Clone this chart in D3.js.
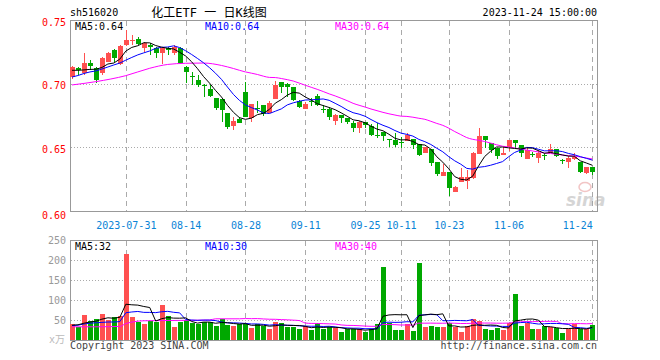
<!DOCTYPE html>
<html><head><meta charset="utf-8">
<script src="https://cdn.jsdelivr.net/npm/d3@7"></script>
<style>body{margin:0;background:#fff}svg{display:block}text{font-family:"DejaVu Sans Mono",monospace;font-size:10px}</style>
</head><body><svg id="c" width="660" height="360"></svg>
<script>
const dates = ["2023-07-18","2023-07-19","2023-07-20","2023-07-21","2023-07-24","2023-07-25","2023-07-26","2023-07-27","2023-07-28","2023-07-31",
"2023-08-01","2023-08-02","2023-08-03","2023-08-04","2023-08-07","2023-08-08","2023-08-09","2023-08-10","2023-08-11","2023-08-14",
"2023-08-15","2023-08-16","2023-08-17","2023-08-18","2023-08-21","2023-08-22","2023-08-23","2023-08-24","2023-08-25","2023-08-28",
"2023-08-29","2023-08-30","2023-08-31","2023-09-01","2023-09-04","2023-09-05","2023-09-06","2023-09-07","2023-09-08","2023-09-11",
"2023-09-12","2023-09-13","2023-09-14","2023-09-15","2023-09-18","2023-09-19","2023-09-20","2023-09-21","2023-09-22","2023-09-25",
"2023-09-26","2023-09-27","2023-09-28","2023-10-09","2023-10-10","2023-10-11","2023-10-12","2023-10-13","2023-10-16","2023-10-17",
"2023-10-18","2023-10-19","2023-10-20","2023-10-23","2023-10-24","2023-10-25","2023-10-26","2023-10-27","2023-10-30","2023-10-31",
"2023-11-01","2023-11-02","2023-11-03","2023-11-06","2023-11-07","2023-11-08","2023-11-09","2023-11-10","2023-11-13","2023-11-14",
"2023-11-15","2023-11-16","2023-11-17","2023-11-20","2023-11-21","2023-11-22","2023-11-23","2023-11-24"];
const open = [0.7050,0.7121,0.7081,0.7160,0.7121,0.7081,0.7173,0.7265,0.7152,0.7304,
0.7335,0.7351,0.7278,0.7304,0.7278,0.7239,0.7278,0.7239,0.7278,0.7133,
0.7060,0.7025,0.6990,0.6958,0.6890,0.6880,0.6772,0.6668,0.6723,0.6932,
0.6728,0.6807,0.6833,0.6772,0.6880,0.7011,0.6997,0.6972,0.6866,0.6801,
0.6862,0.6903,0.6803,0.6801,0.6709,0.6754,0.6733,0.6694,0.6654,0.6697,
0.6670,0.6595,0.6623,0.6569,0.6558,0.6538,0.6550,0.6565,0.6526,0.6453,
0.6485,0.6385,0.6277,0.6306,0.6153,0.6230,0.6232,0.6257,0.6448,0.6591,
0.6534,0.6491,0.6440,0.6505,0.6558,0.6518,0.6408,0.6450,0.6414,0.6437,
0.6453,0.6485,0.6398,0.6382,0.6408,0.6382,0.6296,0.6343];
const close = [0.7129,0.7107,0.7160,0.7141,0.7029,0.7199,0.7243,0.7199,0.7296,0.7343,
0.7343,0.7309,0.7317,0.7290,0.7239,0.7278,0.7265,0.7290,0.7160,0.7094,
0.7052,0.6990,0.6982,0.6903,0.6807,0.6793,0.6662,0.6709,0.6694,0.6741,
0.6840,0.6799,0.6762,0.6846,0.6990,0.6976,0.6976,0.6872,0.6814,0.6840,
0.6856,0.6833,0.6797,0.6738,0.6754,0.6733,0.6701,0.6654,0.6701,0.6675,
0.6597,0.6589,0.6589,0.6563,0.6518,0.6532,0.6597,0.6522,0.6440,0.6500,
0.6375,0.6293,0.6309,0.6181,0.6192,0.6269,0.6267,0.6459,0.6589,0.6555,
0.6479,0.6432,0.6456,0.6558,0.6532,0.6453,0.6479,0.6445,0.6458,0.6432,
0.6485,0.6432,0.6393,0.6414,0.6426,0.6304,0.6348,0.6304];
const high = [0.7139,0.7133,0.7239,0.7186,0.7133,0.7212,0.7251,0.7272,0.7304,0.7422,
0.7382,0.7369,0.7327,0.7317,0.7290,0.7288,0.7290,0.7300,0.7290,0.7139,
0.7094,0.7068,0.6997,0.6990,0.6890,0.6880,0.6772,0.6736,0.6741,0.7011,
0.6840,0.6864,0.6833,0.6866,0.7023,0.7011,0.7009,0.6972,0.6872,0.6858,
0.6885,0.6917,0.6833,0.6819,0.6762,0.6754,0.6733,0.6707,0.6707,0.6701,
0.6681,0.6689,0.6623,0.6569,0.6610,0.6581,0.6615,0.6565,0.6530,0.6505,
0.6485,0.6385,0.6369,0.6306,0.6200,0.6334,0.6322,0.6467,0.6648,0.6591,
0.6534,0.6491,0.6503,0.6558,0.6558,0.6518,0.6491,0.6466,0.6479,0.6458,
0.6526,0.6485,0.6406,0.6432,0.6453,0.6382,0.6348,0.6348];
const low = [0.7037,0.7068,0.7068,0.7107,0.7003,0.7068,0.7168,0.7173,0.7147,0.7296,
0.7304,0.7304,0.7251,0.7225,0.7199,0.7152,0.7225,0.7225,0.7152,0.7003,
0.6990,0.6976,0.6898,0.6898,0.6793,0.6701,0.6642,0.6636,0.6689,0.6741,
0.6701,0.6767,0.6749,0.6767,0.6880,0.6924,0.6898,0.6866,0.6807,0.6799,
0.6825,0.6825,0.6767,0.6715,0.6675,0.6694,0.6681,0.6623,0.6615,0.6650,
0.6591,0.6576,0.6550,0.6505,0.6500,0.6492,0.6550,0.6485,0.6432,0.6452,
0.6353,0.6273,0.6277,0.6114,0.6149,0.6230,0.6173,0.6251,0.6444,0.6492,
0.6453,0.6406,0.6440,0.6471,0.6492,0.6424,0.6408,0.6426,0.6375,0.6401,
0.6452,0.6422,0.6369,0.6335,0.6401,0.6296,0.6292,0.6283];
const volume = [39,33,62.5,48,52,65,50,57,60,215,
58,46,40,47,46,87.5,60,33,46,50,
43,39,46,46,35,52,37.5,35,40,40,
31,39,35,27.5,46,42,33,33,27.5,35,
25,42,27,33,31,21,27,27,27,21,
27,39,183,43,25,25,40,22.5,193,33,
35,33,33,42,33,21,35,52,48,27.5,
25,31,25,42,115,35,43,27.5,27.5,35,
33,31,16.7,27.5,39,27.5,27.5,37];
const ma5Head = [0.7105,0.7105,0.7108,0.7112];
const ma10Head = [0.7052,0.7064,0.7080,0.7092,0.7100,0.7115,0.7131,0.7147,0.7162];
const ma30HeadIndex = [0,4,9,13,16,19,22,25,27];
const ma30HeadValue = [0.6990,0.7016,0.7063,0.7121,0.7151,0.7160,0.7162,0.7143,0.7119];
const volMa5Head = [37,38,42,45];
const volMa10Head = [36,37,40,42,43,44,45,45,46];
const volMa30HeadIndex = [0,4,8,9,12,18,23,24,28];
const volMa30HeadValue = [33,33,34,41,48,49,50,53,53];
const priceTicks = [0.75,0.70,0.65,0.60];
const volTicks = [250,200,150,100,50];
const xTickDates = ["2023-07-31","2023-08-14","2023-08-28","2023-09-11","2023-09-25","2023-10-11","2023-10-23","2023-11-06","2023-11-24"];
const xTickLabels = ["2023-07-31","08-14","08-28","09-11","09-25","10-11","10-23","11-06","11-24"];
const priceLegend = ["MA5:0.64","MA10:0.64","MA30:0.64"];
const volLegend = ["MA5:32","MA10:30","MA30:40"];
const code = "sh516020", title = "化工ETF 一 日K线图", stamp = "2023-11-24 15:00:00";

const svg = d3.select("#c");
const L = 70, R = 597, PT = 20, PB = 211, VT = 240, VB = 340;
const UP = "#ff5050", DOWN = "#00a800", GRID = "#aaaaaa", FRAME = "#999999";
const legendColors = ["#000000","#0000ff","#ff00ff"];

const x = d3.scalePoint().domain(dates).range([72, 592.3]);
const y = d3.scaleLinear().domain([0.60,0.75]).range([PB, PT]);
const yv = d3.scaleLinear().domain([0,250]).range([VB, VT]);

function ma(arr, n, head){
  return arr.map((v,i)=> i < n-1 ? head[i] : d3.mean(arr.slice(i-n+1,i+1)));
}
function ma30pts(arr, hi, hv){
  const pts = hi.map((k,j)=>[k,hv[j]]);
  for(let i=29;i<arr.length;i++) pts.push([i, d3.mean(arr.slice(i-29,i+1))]);
  return pts;
}

// frames
[[PT,PB],[VT,VB]].forEach(([t,b])=>{
  svg.append("rect").attr("x",L+0.5).attr("y",t+0.5).attr("width",R-L).attr("height",b-t)
    .attr("fill","none").attr("stroke",FRAME);
});
// vertical dashed grid
xTickDates.forEach(d=>{
  const xx = Math.round(x(d))+0.5;
  [[PT,PB],[VT,VB]].forEach(([t,b])=>{
    svg.append("line").attr("x1",xx).attr("x2",xx).attr("y1",t+1).attr("y2",b)
      .attr("stroke",GRID).attr("stroke-dasharray","5,4");
  });
});
// horizontal dotted grid
priceTicks.filter(v=>v>0.6&&v<0.75).forEach(v=>{
  const yy = Math.round(y(v))+0.5;
  svg.append("line").attr("x1",L+1).attr("x2",R).attr("y1",yy).attr("y2",yy)
    .attr("stroke",GRID).attr("stroke-dasharray","1,2");
});
volTicks.filter(v=>v<250).forEach(v=>{
  const yy = Math.round(yv(v))+0.5;
  svg.append("line").attr("x1",L+1).attr("x2",R).attr("y1",yy).attr("y2",yy)
    .attr("stroke",GRID).attr("stroke-dasharray","1,2");
});

// watermark
const wm = svg.append("g").attr("opacity",0.4);
wm.append("ellipse").attr("cx",585).attr("cy",187).attr("rx",6).attr("ry",4.5).attr("fill","none").attr("stroke","#e07070").attr("stroke-width",1.5);
wm.append("text").attr("x",566).attr("y",206).text("sina")
  .style("font-family","DejaVu Sans").style("font-size","17px").style("font-style","italic").style("font-weight","bold").attr("fill","#999");

// candles
const idx = d3.range(dates.length);
const isUp = i => close[i] >= open[i];
const cg = svg.append("g").attr("shape-rendering","crispEdges");
idx.forEach(i=>{
  const cx = Math.round(x(dates[i]));
  const col = isUp(i) ? UP : DOWN;
  cg.append("line").attr("x1",cx+0.5).attr("x2",cx+0.5).attr("y1",y(high[i])).attr("y2",y(low[i])).attr("stroke",col);
  const top = y(Math.max(open[i],close[i])), bot = y(Math.min(open[i],close[i]));
  cg.append("rect").attr("x",cx-2).attr("width",5).attr("y",top).attr("height",Math.max(1,bot-top)).attr("fill",col);
  cg.append("rect").attr("x",cx-2).attr("width",5).attr("y",yv(volume[i])).attr("height",VB-yv(volume[i])).attr("fill",col);
});

// MA lines
const lineLin = d3.line().x(d=>x(dates[d[0]])).curve(d3.curveLinear);
const lineMono = d3.line().x(d=>x(dates[d[0]])).curve(d3.curveMonotoneX);
function drawLine(pts, ys, col, gen){
  svg.append("path").attr("d", gen.y(d=>ys(d[1]))(pts)).attr("fill","none").attr("stroke",col).attr("stroke-width",1);
}
const m5 = ma(close,5,ma5Head).map((v,i)=>[i,v]);
const m10 = ma(close,10,ma10Head).map((v,i)=>[i,v]);
const m30 = ma30pts(close, ma30HeadIndex, ma30HeadValue);
drawLine(m30, y, "#ff00ff", lineMono);
drawLine(m10, y, "#0000ff", lineLin);
drawLine(m5, y, "#000000", lineLin);
const v5 = ma(volume,5,volMa5Head).map((v,i)=>[i,v]);
const v10 = ma(volume,10,volMa10Head).map((v,i)=>[i,v]);
const v30 = ma30pts(volume, volMa30HeadIndex, volMa30HeadValue);
drawLine(v30, yv, "#ff00ff", lineMono);
drawLine(v10, yv, "#0000ff", lineLin);
drawLine(v5, yv, "#000000", lineLin);

// legends
const legX = [75,205,335];
priceLegend.forEach((t,j)=> svg.append("text").attr("x",legX[j]).attr("y",30).attr("fill",legendColors[j]).text(t));
volLegend.forEach((t,j)=> svg.append("text").attr("x",legX[j]).attr("y",249.5).attr("fill",legendColors[j]).text(t));

// price axis
const pa = svg.append("g").attr("transform",`translate(${L},0)`)
  .call(d3.axisLeft(y).tickValues(priceTicks).tickFormat(d3.format(".2f")).tickSize(0).tickPadding(4));
pa.select(".domain").remove();
pa.selectAll("text").attr("fill","#ff0000").style("font-size","10px").style("font-family","DejaVu Sans Mono")
  .attr("dy", d => d===0.60 ? "0.75em" : "0.5em");
// volume axis
const va = svg.append("g").attr("transform",`translate(${L},0)`)
  .call(d3.axisLeft(yv).tickValues(volTicks).tickFormat(d3.format("d")).tickSize(0).tickPadding(4));
va.select(".domain").remove();
va.selectAll("text").attr("fill","#999").style("font-size","10px").style("font-family","DejaVu Sans Mono");
svg.append("text").attr("x",65).attr("y",343).attr("text-anchor","end").attr("fill","#bbb").text("x万")
  .style("font-family","DejaVu Sans Mono, Noto Sans CJK SC");

// x axis labels
const xa = svg.append("g").attr("transform",`translate(0,${PB})`)
  .call(d3.axisBottom(x).tickValues(xTickDates).tickFormat((d,i)=>xTickLabels[i]).tickSize(0).tickPadding(11));
xa.select(".domain").remove();
xa.selectAll("text").attr("fill","#0a84d6").style("font-size","10px").style("font-family","DejaVu Sans Mono")
  .attr("text-anchor",(d,i)=> i===xTickDates.length-1 ? "end" : "middle");

// header & footer
svg.append("text").attr("x",70).attr("y",16).attr("fill","#000").text(code);
svg.append("text").attr("x",209).attr("y",17).attr("text-anchor","middle").attr("fill","#000")
  .style("font-size","12px").style("font-family","DejaVu Sans Mono, Noto Sans CJK SC").text(title);
svg.append("text").attr("x",R).attr("y",16).attr("text-anchor","end").attr("fill","#000").text(stamp);
svg.append("text").attr("x",70).attr("y",349).attr("fill","#444").text("Copyright 2023 SINA.COM");
svg.append("text").attr("x",R).attr("y",349).attr("text-anchor","end").attr("fill","#444").text("http://finance.sina.com.cn");
</script></body></html>
